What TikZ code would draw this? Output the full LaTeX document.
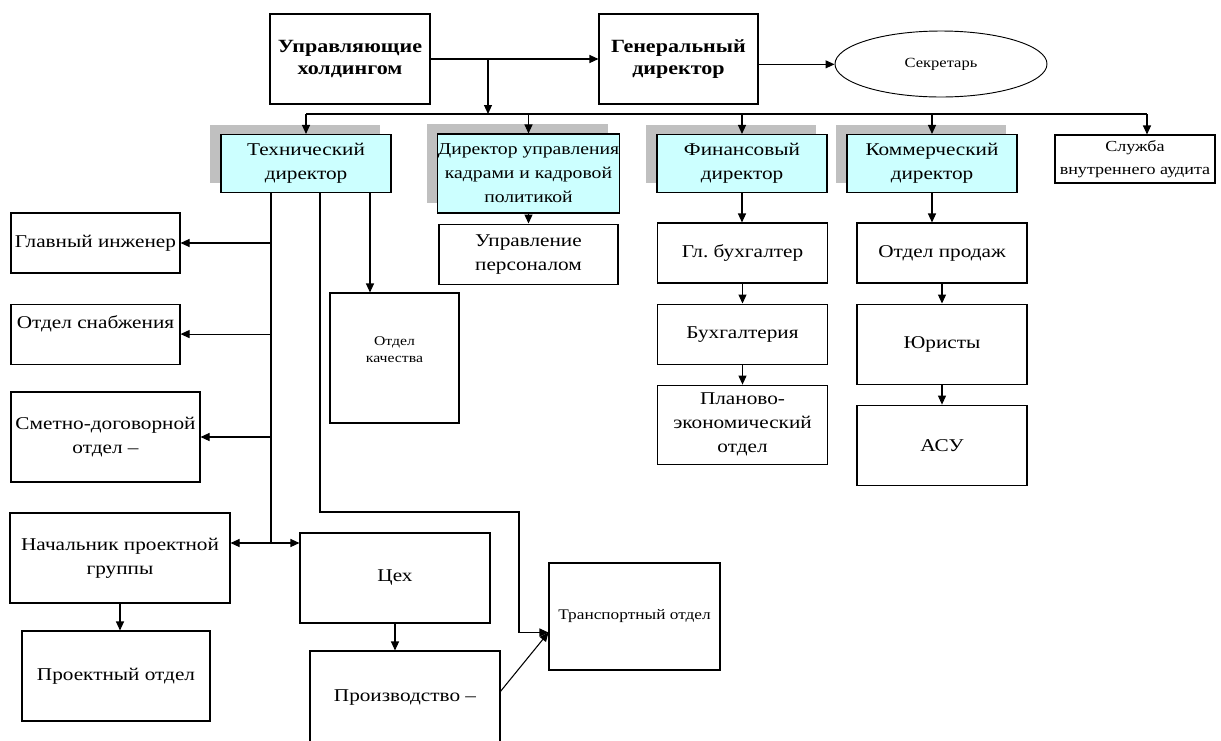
\documentclass[tikz,border=0pt]{standalone}
\usepackage{fontspec}
\setmainfont{Liberation Serif}[FakeStretch=1.18]
\usepackage{tikz}
\usetikzlibrary{arrows.meta, shapes.geometric, shadows, positioning}
\definecolor{golub}{RGB}{204,255,255}
\definecolor{ten}{RGB}{192,192,192}

\begin{document}
\begin{tikzpicture}[x=0.75pt, y=-0.75pt,
    blok/.style={draw, line width=0.8pt, inner xsep=0pt, inner ysep=1pt, align=center, font=\fontsize{13.5}{18}\selectfont},
    glav/.style={blok, font=\fontsize{14}{17}\selectfont\bfseries, minimum height=67.5pt},
    dir/.style={blok, fill=golub, minimum width=127.5pt, minimum height=43.5pt, general shadow={shadow xshift=-8.25pt, shadow yshift=7.5pt, fill=ten}},
    otd/.style={blok, minimum width=127.5pt, minimum height=45pt},
    strelka/.style={line width=0.8pt, -{Triangle[length=6.75pt, width=6pt]}},
    liniya/.style={line width=0.8pt}]
    \path[use as bounding box, fill=white] (0,0) rectangle (1221,740);
    \clip (0,0) rectangle (1221,740);
    \node[glav, minimum width=120pt] (uh) at (350,59) {Управляющие\\холдингом};
    \node[glav, minimum width=119.25pt] (gd) at (678.5,59) {Генеральный\\директор};
    \node[draw, ellipse, line width=0.7pt, minimum width=159pt, minimum height=49.5pt, inner sep=0pt, font=\fontsize{10.5}{13}\selectfont] (sec) at (941,64) {Секретарь};
    \node[dir] (td) at (306,163.5) {Технический\\директор};
    \node[dir, minimum width=134.25pt, minimum height=59.25pt, font=\fontsize{12.5}{18}\selectfont] (duk) at (528.5,173.5) {Директор управления\\кадрами и кадровой\\политикой};
    \node[dir] (fd) at (742,163.5) {Финансовый\\директор};
    \node[dir] (kd) at (932,163.5) {Коммерческий\\директор};
    \node[blok, font=\fontsize{11.5}{17}\selectfont, minimum width=120pt, minimum height=36pt] (sva) at (1135,159) {Служба\\внутреннего аудита};
    \node[otd, minimum width=134.25pt, below=7.5pt of duk] (up) {Управление\\персоналом};
    \node[otd, minimum width=126.75pt] (gi) at (95.5,243) {Главный инженер};
    \node[otd, minimum width=126.75pt, below=22.5pt of gi] (os) {Отдел снабжения\\~};
    \node[otd, minimum width=141.75pt, minimum height=67.5pt] (sdo) at (105.5,437) {Сметно-договорной\\отдел –};
    \node[otd, minimum width=165pt, minimum height=67.5pt] (npg) at (120,558) {Начальник проектной\\группы};
    \node[otd, minimum width=141pt, minimum height=67.5pt] (po) at (116,676) {Проектный отдел};
    \node[otd, minimum width=142.5pt, minimum height=67.5pt] (ceh) at (395,578) {Цех};
    \node[otd, minimum width=142.5pt, minimum height=70.5pt] (pr) at (405,698) {Производство –};
    \node[otd, font=\fontsize{11}{15}\selectfont, minimum width=128.25pt, minimum height=80.25pt] (tr) at (634.5,616.5) {Транспортный отдел};
    \node[otd, font=\fontsize{10}{12.75}\selectfont, minimum width=96.75pt, minimum height=97.5pt] (ok) at (394.5,358) {Отдел\\качества\\~};
    \node[otd] (gb) at (742.5,253) {Гл.~бухгалтер};
    \node[otd, below=15pt of gb] (bh) {Бухгалтерия};
    \node[otd, minimum height=59.25pt, below=15pt of bh] (peo) {Планово-\\экономический\\отдел};
    \node[otd] (op) at (942,253) {Отдел продаж};
    \node[otd, minimum height=60pt, below=15pt of op] (yur) {Юристы};
    \node[otd, minimum height=60pt, below=15pt of yur] (asu) {АСУ};
    \coordinate (hb) at (488,114);
    \coordinate (svb) at (1147,114);
    \coordinate (tdl) at (271,543);
    \coordinate (tdm) at (320,512);
    \coordinate (tdr) at (370,293);
    \coordinate (trk) at (519,512);
    \draw[strelka] (uh.east) -- (gd.west);
    \draw[strelka] (uh.east -| hb) -- (hb);
    \draw[strelka] ([yshift=-4pt]gd.east) -- ([yshift=-4pt]gd.east -| sec.west);
    \draw[liniya] (td.north |- hb) -- (svb);
    \foreach \n in {td,duk,fd,kd}
        \draw[strelka] (\n.north |- hb) -- (\n.north);
    \draw[strelka] (svb) -- (svb |- sva.north);
    \draw[liniya] (td.south -| tdl) -- (tdl);
    \foreach \n in {gi,os,sdo}
        \draw[strelka] (\n.east -| tdl) -- (\n.east);
    \draw[strelka] (tdl) -- (tdl -| npg.east);
    \draw[strelka] (tdl) -- (tdl -| ceh.west);
    \draw[strelka] (td.south -| tdr) -- (tdr |- ok.north);
    \draw[strelka] (td.south -| tdm) -- (tdm) -- (trk) |- ([yshift=-12pt]tr.west);
    \draw[strelka] ([yshift=5pt]pr.east) -- ([yshift=-12pt]tr.west);
    \draw[strelka] (duk.south) -- (up.north);
    \draw[strelka] (npg.south) -- (npg.south |- po.north);
    \draw[strelka] (ceh.south) -- (ceh.south |- pr.north);
    \foreach \a/\b in {fd/gb, gb/bh, bh/peo, kd/op, op/yur, yur/asu}
        \draw[strelka] (\a.south) -- (\a.south |- \b.north);
\end{tikzpicture}
\end{document}
